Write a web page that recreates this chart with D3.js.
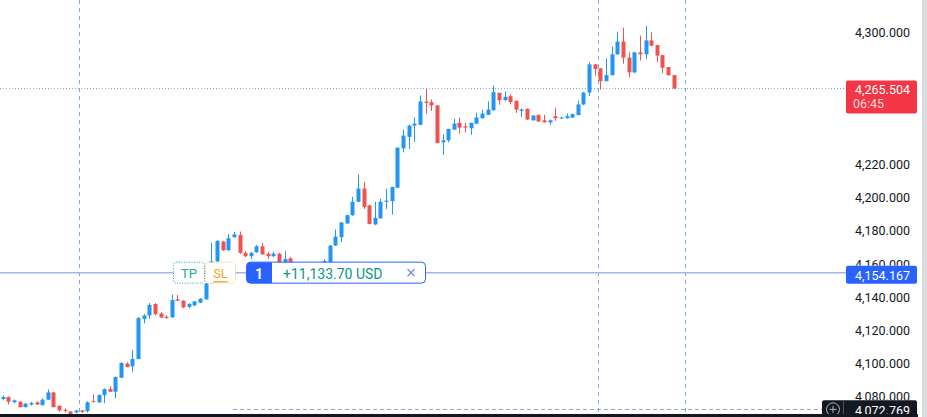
<!DOCTYPE html>
<html>
<head>
<meta charset="utf-8">
<script src="https://cdn.jsdelivr.net/npm/d3@7"></script>
<style>
html,body{margin:0;padding:0;background:#fff;overflow:hidden;}
svg{display:block;font-family:Roboto,"Liberation Sans",sans-serif;}
</style>
</head>
<body>
<svg id="chart" width="927" height="417"></svg>
<script>
// ---- data ----
const opens = [4077.8,4079.0,4075.8,4076.2,4072.9,4074.5,4075.8,4074.1,4077.4,4081.8,
4073.7,4071.3,4070.3,4069.7,4070.9,4070.5,4076.5,4075.8,4080.2,4083.8,
4082.2,4090.7,4099.2,4097.6,4102.0,4126.2,4128.3,4135.2,4129.5,4127.5,
4127.1,4138.0,4137.2,4133.5,4134.4,4136.0,4138.0,4147.9,4161.0,4172.9,
4167.7,4175.6,4177.0,4166.1,4164.1,4166.5,4170.1,4165.6,4164.1,4165.6,
4159.6,4162.8,4158.8,4156.4,4158.2,4156.4,4154.5,4160.4,4160.4,4170.6,
4175.6,4183.9,4188.9,4197.0,4205.0,4194.8,4183.3,4187.0,4197.0,4197.4,
4205.5,4229.3,4236.2,4243.0,4243.5,4257.6,4257.2,4255.2,4232.9,4234.1,
4240.6,4244.7,4242.6,4241.4,4244.2,4247.5,4249.5,4252.3,4262.8,4258.4,
4260.8,4258.0,4251.9,4253.2,4246.2,4249.5,4246.2,4245.0,4248.7,4247.4,
4247.5,4247.9,4249.4,4255.8,4263.0,4280.0,4277.6,4269.9,4273.5,4286.1,
4293.8,4284.1,4275.2,4287.3,4286.1,4294.5,4291.7,4285.6,4278.4,4273.5];
const highs = [4080.0,4079.4,4077.6,4076.4,4075.2,4076.1,4076.4,4078.2,4083.5,4082.1,
4073.9,4072.1,4070.6,4071.2,4071.3,4076.4,4080.6,4080.6,4084.2,4085.5,
4091.5,4100.0,4100.0,4107.3,4127.3,4129.1,4135.8,4135.8,4130.3,4128.5,
4140.8,4140.6,4137.6,4135.8,4137.0,4138.8,4147.9,4172.3,4173.9,4173.3,
4177.4,4178.8,4179.0,4167.3,4166.7,4170.9,4172.1,4166.7,4166.7,4166.1,
4167.3,4163.6,4159.4,4158.8,4158.8,4157.0,4159.4,4162.4,4170.9,4180.2,
4184.8,4189.4,4200.0,4213.6,4208.8,4195.2,4197.0,4198.8,4205.0,4206.1,
4230.0,4240.6,4243.6,4247.9,4261.2,4265.3,4258.8,4255.5,4237.8,4241.2,
4247.1,4247.9,4244.7,4244.8,4250.7,4252.7,4257.6,4267.3,4263.0,4263.6,
4262.0,4258.2,4253.5,4253.3,4249.4,4249.7,4249.5,4246.7,4253.9,4248.2,
4250.3,4250.3,4258.0,4263.3,4281.2,4280.3,4277.9,4283.6,4290.9,4299.8,
4302.2,4287.3,4287.6,4297.4,4303.4,4299.4,4291.8,4285.8,4278.5,4273.6];
const lows = [4077.0,4074.5,4075.5,4072.7,4072.7,4073.9,4074.2,4073.9,4077.3,4072.7,
4070.3,4069.7,4067.9,4069.1,4069.4,4069.7,4076.1,4075.5,4075.4,4082.1,
4078.2,4090.6,4097.0,4094.0,4101.8,4123.6,4126.1,4128.5,4126.7,4126.4,
4127.0,4137.0,4132.7,4132.7,4133.9,4135.8,4137.9,4147.6,4160.6,4167.3,
4167.3,4175.2,4165.5,4163.6,4162.4,4166.1,4164.8,4162.4,4163.6,4159.4,
4159.2,4157.6,4155.2,4155.8,4153.9,4152.7,4153.9,4158.8,4160.0,4170.3,
4172.7,4183.6,4188.5,4196.7,4192.7,4183.3,4183.0,4186.7,4192.7,4189.3,
4205.2,4226.8,4228.9,4233.3,4243.3,4250.3,4251.9,4232.4,4225.3,4232.9,
4240.3,4238.2,4239.0,4237.4,4243.9,4247.3,4249.4,4252.1,4255.6,4258.0,
4255.9,4250.7,4248.3,4246.4,4246.1,4245.2,4244.8,4243.5,4245.9,4247.0,
4247.3,4247.6,4249.3,4255.5,4261.0,4273.2,4264.7,4269.7,4273.3,4285.8,
4280.4,4272.3,4274.8,4282.4,4283.2,4291.2,4281.2,4274.7,4273.3,4265.0];
const closes = [4079.0,4076.2,4077.0,4072.9,4075.0,4075.4,4074.5,4077.4,4081.8,4072.9,
4070.9,4070.5,4068.5,4070.9,4070.0,4075.8,4076.2,4080.2,4083.8,4082.2,
4091.1,4099.6,4097.2,4102.0,4126.7,4128.3,4134.7,4129.1,4127.1,4126.7,
4137.6,4137.2,4133.2,4135.2,4136.8,4138.4,4147.7,4161.0,4173.3,4167.7,
4175.0,4177.3,4166.1,4164.1,4166.1,4170.1,4165.3,4164.1,4165.6,4159.6,
4162.4,4158.2,4156.4,4158.2,4155.2,4153.9,4158.8,4161.2,4170.5,4175.9,
4184.5,4188.9,4197.0,4205.0,4193.9,4183.6,4187.3,4197.0,4197.7,4205.9,
4229.7,4237.0,4243.0,4244.2,4257.6,4256.8,4255.2,4232.5,4234.1,4241.0,
4244.2,4241.8,4241.8,4244.7,4247.9,4250.3,4252.7,4263.2,4258.4,4260.4,
4257.2,4252.7,4252.7,4246.7,4249.1,4245.5,4245.0,4246.2,4247.5,4247.9,
4248.7,4250.0,4255.8,4263.0,4280.0,4277.2,4269.9,4273.5,4286.1,4293.8,
4284.1,4275.2,4287.3,4286.1,4294.5,4291.3,4285.3,4278.0,4273.5,4265.504];
const priceTicks = [4080, 4100, 4120, 4140, 4160, 4180, 4200, 4220, 4300];
const sessionBreaks = [13.5, 105.5, 121];   // bar positions of the dashed separators
const entryPrice = 4154.167;
const lastPrice = 4265.504;
const cursorPrice = 4072.769;
const countdown = "06:45";
const positionQty = "1";
const positionPnl = "+11,133.70 USD";

// ---- layout ----
const W = 927, H = 417, paneRight = 846, paneBottom = 414;
const svg = d3.select("#chart");
const x = d3.scaleLinear().domain([0, opens.length - 1]).range([2.7, 673.7]);
const y = d3.scaleLinear().domain([4080, 4300]).range([395.4, 31.3]);
const fmt = d3.format(",.3f");
const UP = "#2196f3", DOWN = "#ef5350";

const ey = y(entryPrice);
const ly = y(lastPrice);
const cy = y(cursorPrice) + 2;

const defs = svg.append("defs");
defs.append("clipPath").attr("id","pane")
  .append("rect").attr("x",0).attr("y",0).attr("width",paneRight).attr("height",paneBottom);
// the price-scale area that is not covered by the price labels
const scaleClip = defs.append("clipPath").attr("id","scaleClip");
scaleClip.append("path").attr("d",
  `M846,0 H927 V${ly-8} H846 Z M846,${ly+25} H927 V${ey-7} H846 Z M846,${ey+11} H927 V${cy-9} H846 Z`);

const pane = svg.append("g").attr("clip-path","url(#pane)");

// session separators
pane.selectAll("line.sep").data(sessionBreaks).join("line")
  .attr("x1", d => Math.round(x(d)) + 0.5).attr("x2", d => Math.round(x(d)) + 0.5)
  .attr("y1", 0).attr("y2", paneBottom)
  .attr("stroke", "#7da7e3").attr("stroke-width", 1).attr("stroke-dasharray", "4,4");

// last price dotted line
pane.append("line").attr("x1",0).attr("x2",paneRight)
  .attr("y1", Math.round(ly)+0.5).attr("y2", Math.round(ly)+0.5)
  .attr("stroke","#7ea6d8").attr("stroke-width",1).attr("stroke-dasharray","1,2");

// candles
const bars = d3.range(opens.length);
const g = pane.append("g");
g.selectAll("line.wick").data(bars).join("line")
  .attr("x1", i => Math.round(x(i)) + 0.5).attr("x2", i => Math.round(x(i)) + 0.5)
  .attr("y1", i => y(highs[i])).attr("y2", i => y(lows[i]))
  .attr("stroke", i => closes[i] >= opens[i] ? UP : DOWN).attr("stroke-width", 1);
g.selectAll("rect.body").data(bars).join("rect")
  .attr("x", i => Math.round(x(i)) - 1.5).attr("width", 4)
  .attr("y", i => y(Math.max(opens[i], closes[i])))
  .attr("height", i => Math.max(1, Math.abs(y(opens[i]) - y(closes[i]))))
  .attr("fill", i => closes[i] >= opens[i] ? UP : DOWN);

// entry line
svg.append("line").attr("x1",0).attr("x2",paneRight)
  .attr("y1", ey).attr("y2", ey)
  .attr("stroke","#a3b5ea").attr("stroke-width",1.5);

// cursor dashed line
svg.append("line").attr("x1",233).attr("x2",822)
  .attr("y1", Math.round(cy)+0.5).attr("y2", Math.round(cy)+0.5)
  .attr("stroke","#a0a4ad").attr("stroke-width",1).attr("stroke-dasharray","4,3");

// right price scale labels (partly hidden under the price labels, as in the reference)
svg.append("g").attr("clip-path","url(#scaleClip)")
  .selectAll("text.tick").data(priceTicks).join("text")
  .attr("x", 910).attr("y", d => y(d) + 1)
  .attr("text-anchor","end").attr("dominant-baseline","central")
  .attr("font-size", 12.5).attr("fill","#131722")
  .text(d => fmt(d));

// TP / SL buttons
const tp = svg.append("g");
tp.append("rect").attr("x",173.5).attr("y",ey-10.5).attr("width",31).attr("height",21).attr("rx",3)
  .attr("fill","#fff").attr("stroke","#26a69a").attr("stroke-dasharray","1,1.5");
tp.append("text").attr("x",189).attr("y",ey+1).attr("text-anchor","middle").attr("dominant-baseline","central")
  .attr("font-size",13).attr("fill","#22ab94").text("TP");
tp.append("rect").attr("x",205.5).attr("y",ey-10.5).attr("width",30).attr("height",21).attr("rx",3)
  .attr("fill","#fff").attr("stroke","#f5c26b").attr("stroke-dasharray","1,1.5");
tp.append("text").attr("x",220.5).attr("y",ey+1).attr("text-anchor","middle").attr("dominant-baseline","central")
  .attr("font-size",13).attr("fill","#f7a21b").attr("text-decoration","underline").text("SL");

// position label
const pl = svg.append("g");
pl.append("rect").attr("x",246.5).attr("y",ey-10.5).attr("width",179).attr("height",21).attr("rx",4)
  .attr("fill","#fff").attr("stroke","#2962ff").attr("stroke-width",1);
pl.append("path").attr("d",`M${272},${ey-10.5} L${250.5},${ey-10.5} Q${246.5},${ey-10.5} ${246.5},${ey-6.5} L${246.5},${ey+6.5} Q${246.5},${ey+10.5} ${250.5},${ey+10.5} L${272},${ey+10.5} Z`)
  .attr("fill","#2962ff");
pl.append("text").attr("x",259).attr("y",ey+1).attr("text-anchor","middle").attr("dominant-baseline","central")
  .attr("font-size",14).attr("font-weight",700).attr("fill","#fff").text(positionQty);
pl.append("text").attr("x",283).attr("y",ey+1).attr("dominant-baseline","central")
  .attr("font-size",14).attr("fill","#089981").text(positionPnl);
pl.append("path").attr("d",`M${407.5},${ey-3.5} L${414.5},${ey+3.5} M${414.5},${ey-3.5} L${407.5},${ey+3.5}`)
  .attr("stroke","#5a7ee0").attr("stroke-width",1.2);

// entry price label (blue)
svg.append("rect").attr("x",846).attr("y",ey-7).attr("width",71).attr("height",18).attr("rx",2).attr("fill","#2962ff");
svg.append("text").attr("x",910).attr("y",ey+2.5).attr("text-anchor","end").attr("dominant-baseline","central")
  .attr("font-size",12.5).attr("fill","#fff").text(fmt(entryPrice));

// last price label (red)
svg.append("rect").attr("x",846).attr("y",ly-8).attr("width",71).attr("height",33).attr("rx",2).attr("fill","#f23645");
svg.append("text").attr("x",910).attr("y",ly+1).attr("text-anchor","end").attr("dominant-baseline","central")
  .attr("font-size",12.5).attr("fill","#fff").text(fmt(lastPrice));
svg.append("text").attr("x",853).attr("y",ly+15.5).attr("dominant-baseline","central")
  .attr("font-size",12.5).attr("fill","#ffd9db").text(countdown);

// cursor label (black)
svg.append("rect").attr("x",822).attr("y",cy-9).attr("width",95).attr("height",20).attr("rx",2).attr("fill","#131722");
svg.append("circle").attr("cx",833).attr("cy",cy).attr("r",6.5).attr("fill","none").attr("stroke","#b2b5be").attr("stroke-width",1);
svg.append("path").attr("d",`M829.5,${cy} L836.5,${cy} M833,${cy-3.5} L833,${cy+3.5}`).attr("stroke","#b2b5be").attr("stroke-width",1);
svg.append("line").attr("x1",843.5).attr("x2",843.5).attr("y1",cy-8).attr("y2",cy+8).attr("stroke","#50535e");
svg.append("text").attr("x",910).attr("y",cy+1).attr("text-anchor","end").attr("dominant-baseline","central")
  .attr("font-size",12.5).attr("fill","#fff").text(fmt(cursorPrice));

// bottom border and right scrollbar strip
svg.append("rect").attr("x",0).attr("y",414).attr("width",918).attr("height",3).attr("fill","#131722");
svg.append("rect").attr("x",922).attr("y",0).attr("width",5).attr("height",H).attr("fill","#dadbdf");
</script>
</body>
</html>
